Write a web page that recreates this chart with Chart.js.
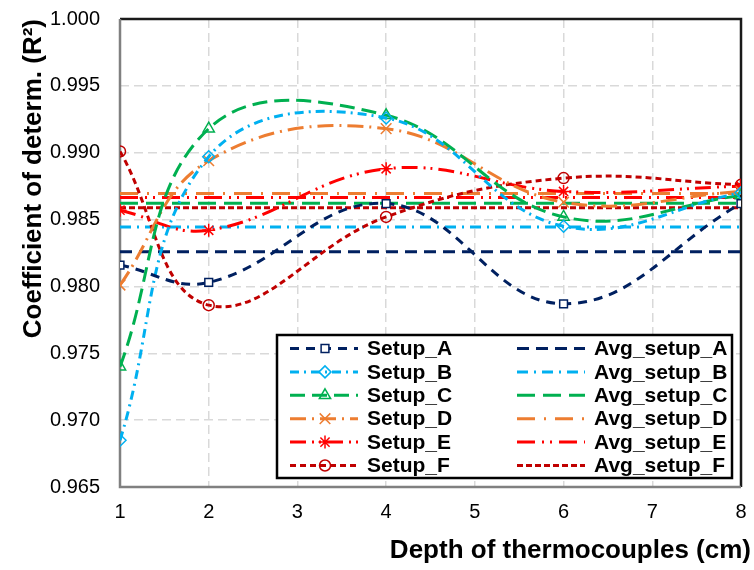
<!DOCTYPE html>
<html lang="en">
<head>
  <meta charset="UTF-8" />
  <title>Coefficient of determination vs depth</title>
  <style>
    html, body {
      margin: 0;
      padding: 0;
      background-color: white;
    }
    #chart {
      display: block;
    }
  </style>
  <script src="https://cdn.jsdelivr.net/npm/chart.js"></script>
</head>
<body>
  <canvas id="chart" width="754" height="570"></canvas>

  <script>
    // values
    const depths = [1, 2, 4, 6, 8];
    const setupA = [0.9816, 0.9803, 0.9862, 0.9787, 0.9862];
    const setupB = [0.9685, 0.9897, 0.9926, 0.9845, 0.9870];
    const setupC = [0.9740, 0.9918, 0.9928, 0.9852, 0.9868];
    const setupD = [0.9801, 0.9894, 0.9918, 0.9863, 0.9871];
    const setupE = [0.9857, 0.9842, 0.9888, 0.9871, 0.9875];
    const setupF = [0.9901, 0.9786, 0.9852, 0.9881, 0.9876];
    const avgX = [1, 8];
    const averages = [0.9826, 0.98445, 0.98622, 0.98695, 0.98665, 0.98588];
    const setupNames = ['Setup_A', 'Setup_B', 'Setup_C', 'Setup_D', 'Setup_E', 'Setup_F'];
    const avgNames = ['Avg_setup_A', 'Avg_setup_B', 'Avg_setup_C', 'Avg_setup_D', 'Avg_setup_E', 'Avg_setup_F'];
    const yTicks = [0.965, 0.970, 0.975, 0.980, 0.985, 0.990, 0.995, 1.000];
    const xTicks = [1, 2, 3, 4, 5, 6, 7, 8];
    const xTitle = 'Depth of thermocouples (cm)';
    const yTitle = 'Coefficient of determ. (R²)';

    const FONT = "'Liberation Sans', Arial, sans-serif";
    const colors = ['#002060', '#00b0f0', '#00b050', '#ed7d31', '#ff0000', '#c00000'];
    const setupDash = [[9, 7], [9, 5, 2, 5], [15, 7], [16, 6, 2, 6], [16, 6, 2, 5, 2, 6], [6, 4]];
    const avgDash = [[12, 7], [11, 6, 2, 6], [18, 8], [18, 9, 2, 9], [18, 7, 2, 6, 2, 7], [6, 3]];
    const markers = [
      { style: 'rect', r: 5.5 },
      { style: 'rectRot', r: 6 },
      { style: 'triangle', r: 6.5 },
      { style: 'crossRot', r: 7.5 },
      { style: 'star', r: 6.5 },
      { style: 'circle', r: 5.5 }
    ];

    const setupValues = [setupA, setupB, setupC, setupD, setupE, setupF];

    const datasets = [];
    setupValues.forEach((vals, i) => {
      datasets.push({
        label: setupNames[i],
        data: depths.map((d, k) => ({ x: d, y: vals[k] })),
        borderColor: colors[i],
        borderWidth: 3,
        borderDash: setupDash[i],
        tension: 0.4,
        fill: false,
        pointStyle: markers[i].style,
        pointRadius: markers[i].r,
        pointBorderWidth: 1.5,
        pointBorderColor: colors[i],
        pointBackgroundColor: i === 0 ? '#ffffff' : 'rgba(255,255,255,0)'
      });
    });
    averages.forEach((v, i) => {
      datasets.push({
        label: avgNames[i],
        data: avgX.map(d => ({ x: d, y: v })),
        borderColor: colors[i],
        borderWidth: 3,
        borderDash: avgDash[i],
        fill: false,
        pointRadius: 0,
        pointHoverRadius: 0
      });
    });

    // plot frame: gray left/bottom, dark top/right
    const framePlugin = {
      id: 'framePlugin',
      beforeDatasetsDraw(chart) {
        const { left, right, top, bottom } = chart.chartArea;
        const ctx = chart.ctx;
        ctx.save();
        ctx.lineWidth = 2.5;
        ctx.strokeStyle = '#1a1a1a';
        ctx.beginPath();
        ctx.moveTo(left, top);
        ctx.lineTo(right, top);
        ctx.lineTo(right, bottom);
        ctx.stroke();
        ctx.strokeStyle = '#808080';
        ctx.beginPath();
        ctx.moveTo(left, top);
        ctx.lineTo(left, bottom);
        ctx.lineTo(right, bottom);
        ctx.stroke();
        ctx.restore();
      }
    };

    // x title sits a bit past the plot's right edge, like the original
    const xTitlePlugin = {
      id: 'xTitlePlugin',
      afterDraw(chart) {
        const ctx = chart.ctx;
        ctx.save();
        ctx.fillStyle = '#000';
        ctx.font = 'bold 26px ' + FONT;
        ctx.textAlign = 'right';
        ctx.textBaseline = 'middle';
        ctx.fillText(xTitle, chart.width - 3, chart.height - 19);
        ctx.restore();
      }
    };

    // boxed two-column legend inside the plot
    const boxLegendPlugin = {
      id: 'boxLegendPlugin',
      afterDraw(chart) {
        const ctx = chart.ctx;
        const area = chart.chartArea;
        const boxW = 455, boxH = 143;
        const bx = area.right - 9 - boxW;
        const by = area.bottom - 9 - boxH;
        const rowH = 23.4;
        ctx.save();
        ctx.fillStyle = '#ffffff';
        ctx.fillRect(bx, by, boxW, boxH);
        ctx.lineWidth = 2.5;
        ctx.strokeStyle = '#000000';
        ctx.setLineDash([]);
        ctx.strokeRect(bx, by, boxW, boxH);

        const drawItem = (ds, x0, y) => {
          ctx.save();
          ctx.strokeStyle = ds.borderColor;
          ctx.lineWidth = 3;
          ctx.setLineDash(ds.borderDash || []);
          ctx.beginPath();
          ctx.moveTo(x0, y);
          ctx.lineTo(x0 + 68, y);
          ctx.stroke();
          ctx.setLineDash([]);
          if (ds.pointRadius) {
            ctx.strokeStyle = ds.pointBorderColor;
            ctx.fillStyle = ds.pointBackgroundColor;
            ctx.lineWidth = ds.pointBorderWidth;
            Chart.helpers.drawPoint(ctx, {
              pointStyle: ds.pointStyle,
              radius: ds.pointRadius,
              borderWidth: ds.pointBorderWidth,
              rotation: 0
            }, x0 + 35, y);
          }
          ctx.restore();
          ctx.fillStyle = '#000000';
          ctx.font = 'bold 21px ' + FONT;
          ctx.textBaseline = 'middle';
          ctx.textAlign = 'left';
          ctx.fillText(ds.label, x0 + 77, y + 1);
        };

        for (let i = 0; i < 6; i++) {
          const y = by + 13.5 + i * rowH;
          drawItem(chart.data.datasets[i], bx + 13, y);
          drawItem(chart.data.datasets[i + 6], bx + 240, y);
        }
        ctx.restore();
      }
    };

    const ctx = document.getElementById('chart').getContext('2d');
    new Chart(ctx, {
      type: 'line',
      data: { datasets: datasets },
      options: {
        responsive: false,
        animation: false,
        events: [],
        layout: { padding: { top: 19, right: 13, left: 0, bottom: 0 } },
        plugins: {
          legend: { display: false },
          tooltip: { enabled: false }
        },
        scales: {
          x: {
            type: 'linear',
            min: 1,
            max: 8,
            afterFit: scale => {
              scale.height = 83;
              scale.paddingLeft = 0;
              scale.paddingRight = 0;
            },
            afterBuildTicks: scale => { scale.ticks = xTicks.map(v => ({ value: v })); },
            ticks: {
              padding: 13,
              color: '#000',
              font: { family: FONT, size: 20 },
              callback: v => String(v)
            },
            grid: { color: '#d9d9d9', lineWidth: 1.5, drawTicks: false },
            border: { display: false, dash: [9, 5] }
          },
          y: {
            type: 'linear',
            min: 0.965,
            max: 1.0,
            afterFit: scale => {
              scale.width = 120;
              scale.paddingTop = 0;
              scale.paddingBottom = 0;
            },
            afterBuildTicks: scale => { scale.ticks = yTicks.map(v => ({ value: v })); },
            ticks: {
              padding: 20,
              color: '#000',
              font: { family: FONT, size: 20 },
              callback: v => Number(v).toFixed(3)
            },
            grid: { color: '#d9d9d9', lineWidth: 1.5, drawTicks: false },
            border: { display: false, dash: [9, 5] },
            title: {
              display: true,
              text: yTitle,
              align: 'end',
              color: '#000',
              padding: { top: 18, bottom: 0 },
              font: { family: FONT, size: 26, weight: 'bold' }
            }
          }
        }
      },
      plugins: [framePlugin, boxLegendPlugin, xTitlePlugin]
    });
  </script>
</body>
</html>
